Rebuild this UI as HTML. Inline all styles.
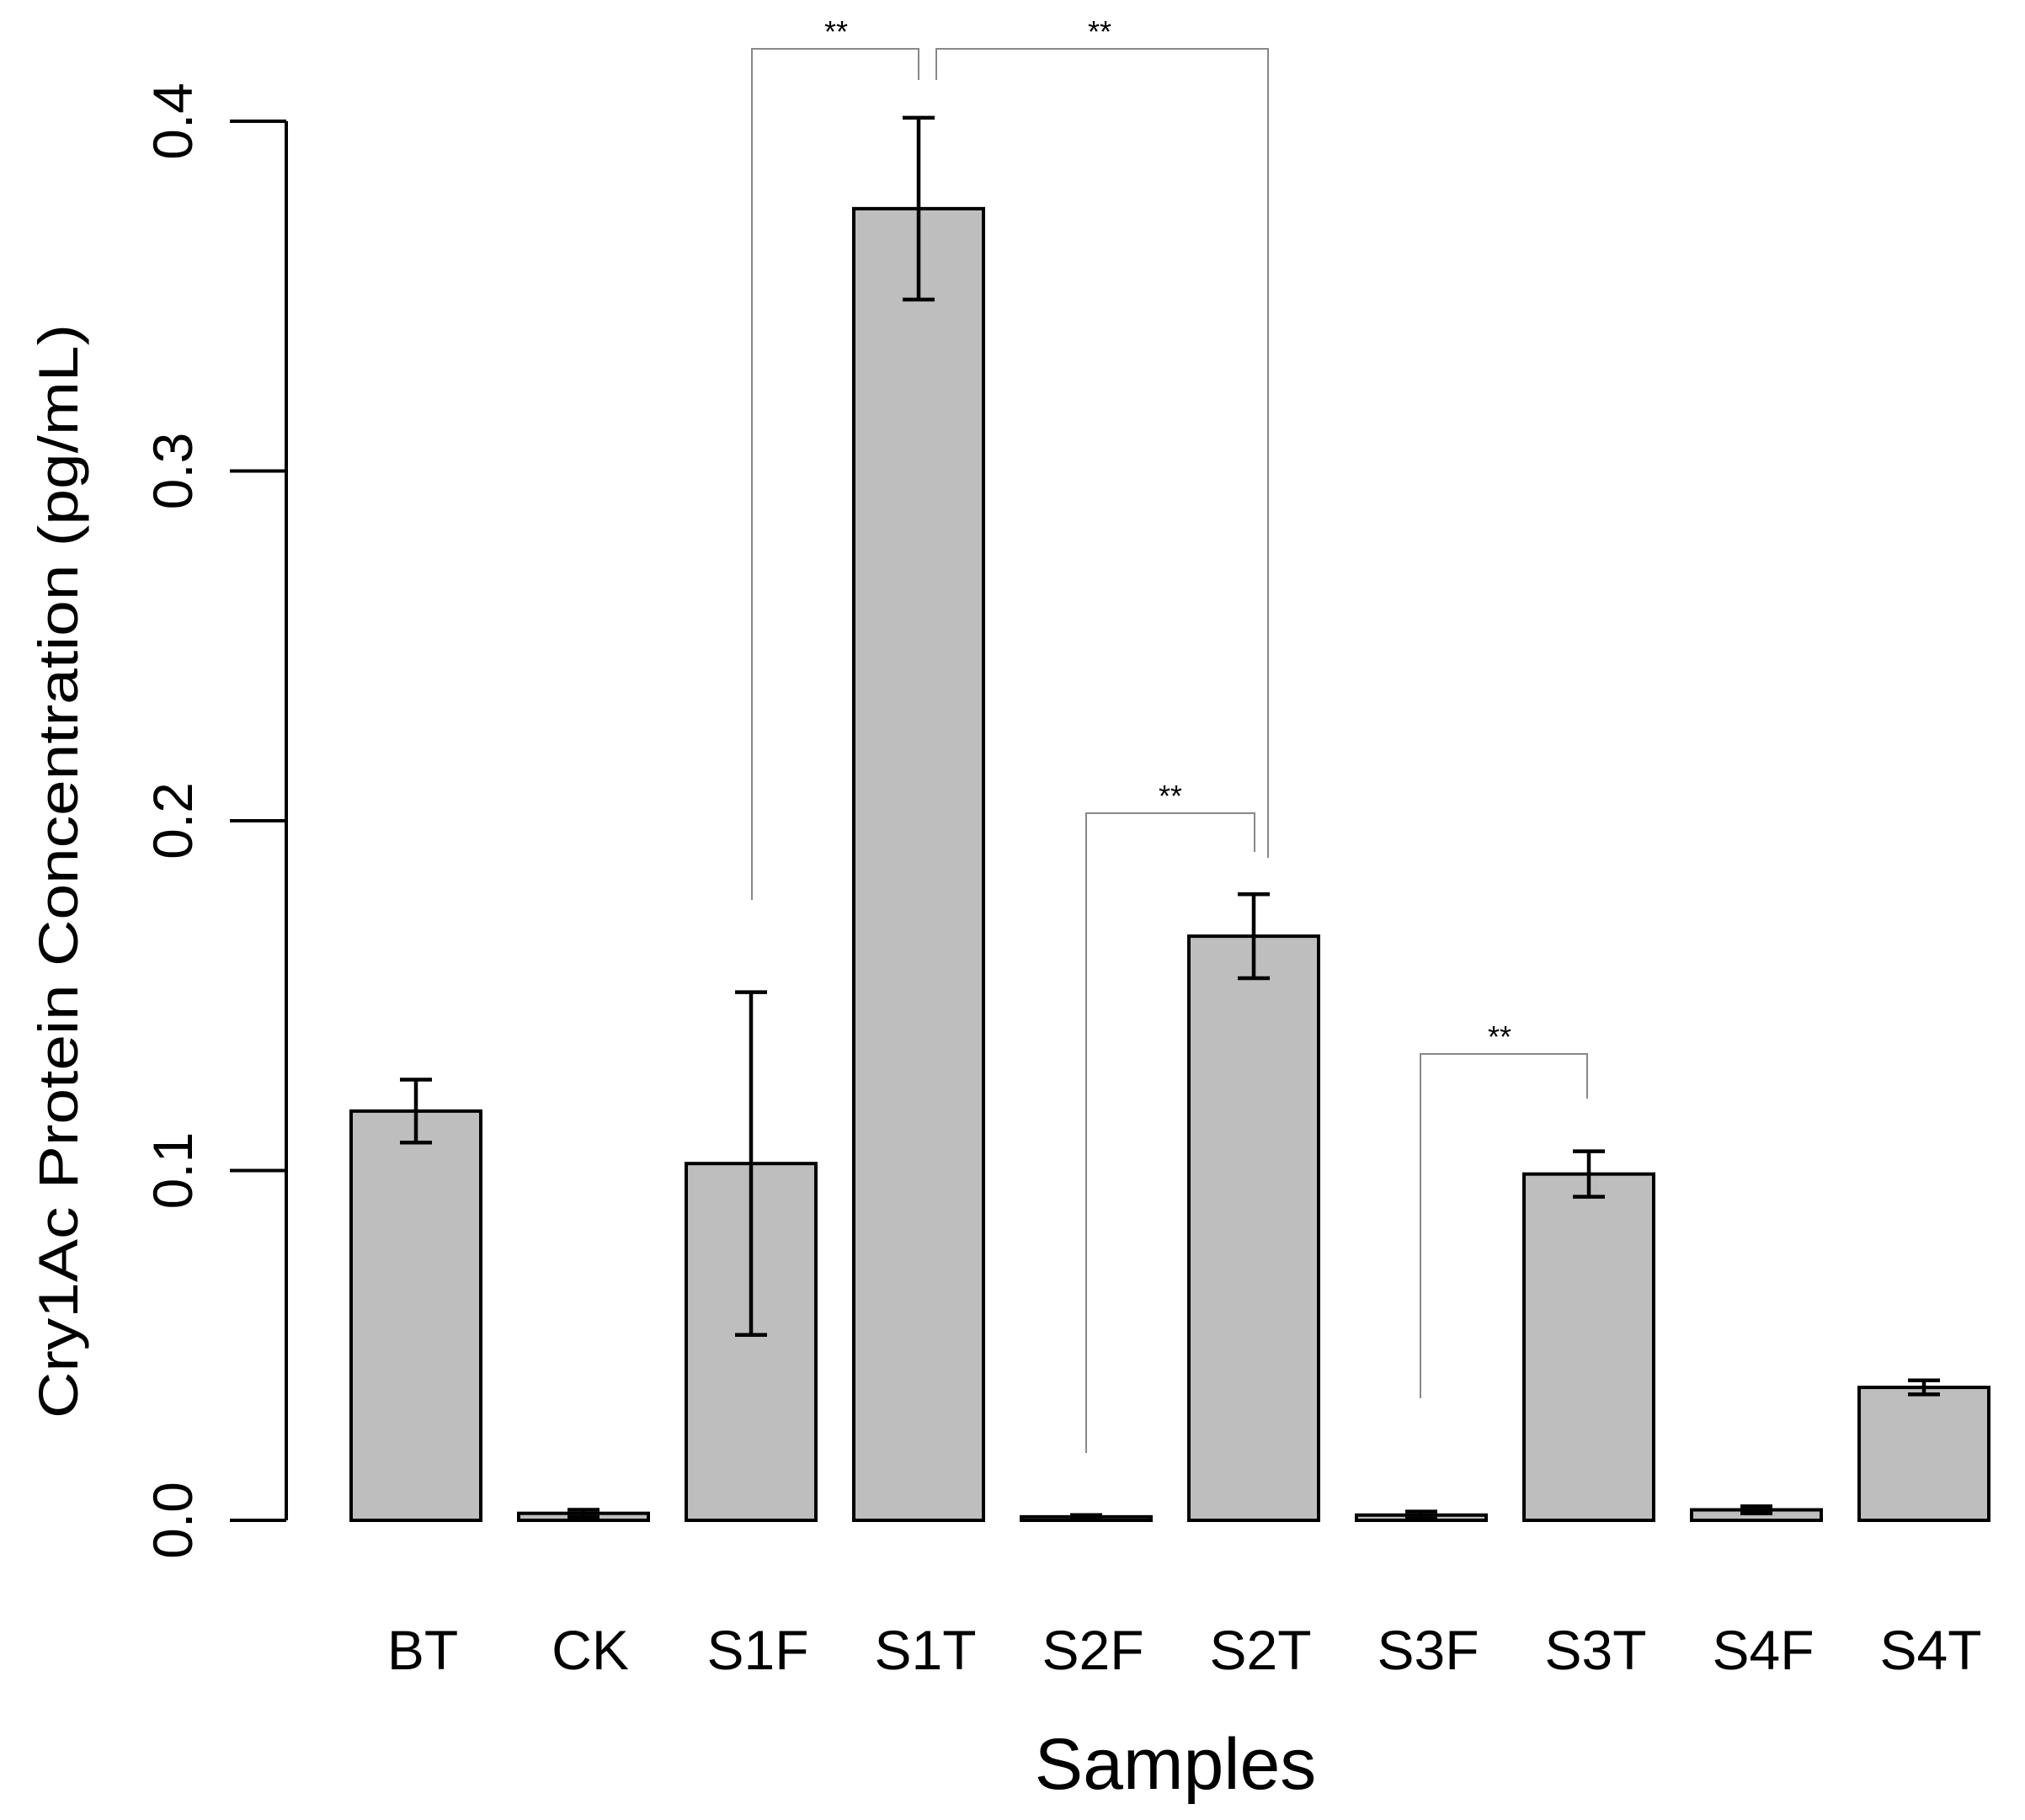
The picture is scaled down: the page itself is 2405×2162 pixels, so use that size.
<!DOCTYPE html>
<html><head><meta charset="utf-8"><style>
body{margin:0;background:#fff}
svg{display:block}
text{font-family:"Liberation Sans",sans-serif;fill:#000}
</style></head><body>
<svg id="chart" width="2405" height="2162" viewBox="0 0 2405 2162">
<g id="axes"></g>
<g id="bars"></g>
<g id="sig"></g>
<text x="92" y="1035" font-size="66" text-anchor="middle" textLength="1300" lengthAdjust="spacingAndGlyphs" transform="rotate(-90 92 1035)">Cry1Ac Protein Concentration (pg/mL)</text>
<text x="1396" y="2125" font-size="86" text-anchor="middle">Samples</text>
</svg>
<script>
const categories=["BT","CK","S1F","S1T","S2F","S2T","S3F","S3T","S4F","S4T"];
const values=[0.117,0.002,0.102,0.375,0.001,0.167,0.0015,0.099,0.003,0.038];
const errors=[0.009,0.001,0.049,0.026,0.0005,0.012,0.001,0.0065,0.001,0.002];
const yTicks=[0,0.1,0.2,0.3,0.4];
const yTickLabels=["0.0","0.1","0.2","0.3","0.4"];
const NS="http://www.w3.org/2000/svg";
const y=v=>1806-v*(1806-144)/0.4;
const xl=i=>417+i*199;
const BW=154;
function mk(tag,attrs,parent){const e=document.createElementNS(NS,tag);for(const k in attrs)e.setAttribute(k,attrs[k]);parent.appendChild(e);return e;}
const axes=document.getElementById('axes');
const al=mk('line',{x1:340,x2:340,y1:y(0.4),y2:y(0),stroke:'#000','stroke-width':4},axes);


yTicks.forEach((t,i)=>{
  const tk=mk('line',{x1:273,x2:340,y1:y(t),y2:y(t),stroke:'#000','stroke-width':4},axes);
  
  
  const tx=mk('text',{x:228,y:y(t),'font-size':66,'text-anchor':'middle',transform:`rotate(-90 228 ${y(t)})`},axes);
  tx.textContent=yTickLabels[i];
  
  
});
const bars=document.getElementById('bars');
categories.forEach((c,i)=>{
  const x=xl(i),cx=x+BW/2,v=values[i],e=errors[i];
  const r=mk('rect',{x:x,y:y(v),width:BW,height:y(0)-y(v),fill:'#bebebe',stroke:'#000','stroke-width':4},bars);
  
  
  const g=mk('g',{stroke:'#000','stroke-width':4.5},bars);
  
  
  mk('line',{x1:cx,x2:cx,y1:y(v+e),y2:y(v-e)},g);
  mk('line',{x1:cx-19,x2:cx+19,y1:y(v+e),y2:y(v+e)},g);
  mk('line',{x1:cx-19,x2:cx+19,y1:y(v-e),y2:y(v-e)},g);
  const t=mk('text',{x:cx+8,y:1983,'font-size':66,'text-anchor':'middle'},bars);
  t.textContent=c;
  
  
});
const sig=document.getElementById('sig');
const brackets=[[893,1069,1091,95,58,993],[1112,95,1506,1019,58,1306],[1290,1726,1490,1012,966,1390],[1687,1661,1885,1305,1252,1781]];
brackets.forEach(b=>{
  const [x1,y1,x2,y2,top,sx]=b;
  const p=mk('polyline',{points:`${x1},${y1} ${x1},${top} ${x2},${top} ${x2},${y2}`,fill:'none',stroke:'#888','stroke-width':2},sig);
  
  
  const t=mk('text',{x:sx,y:top-8,'font-size':36,'text-anchor':'middle'},sig);
  t.textContent='**';
  
  
});
</script>
</body></html>
